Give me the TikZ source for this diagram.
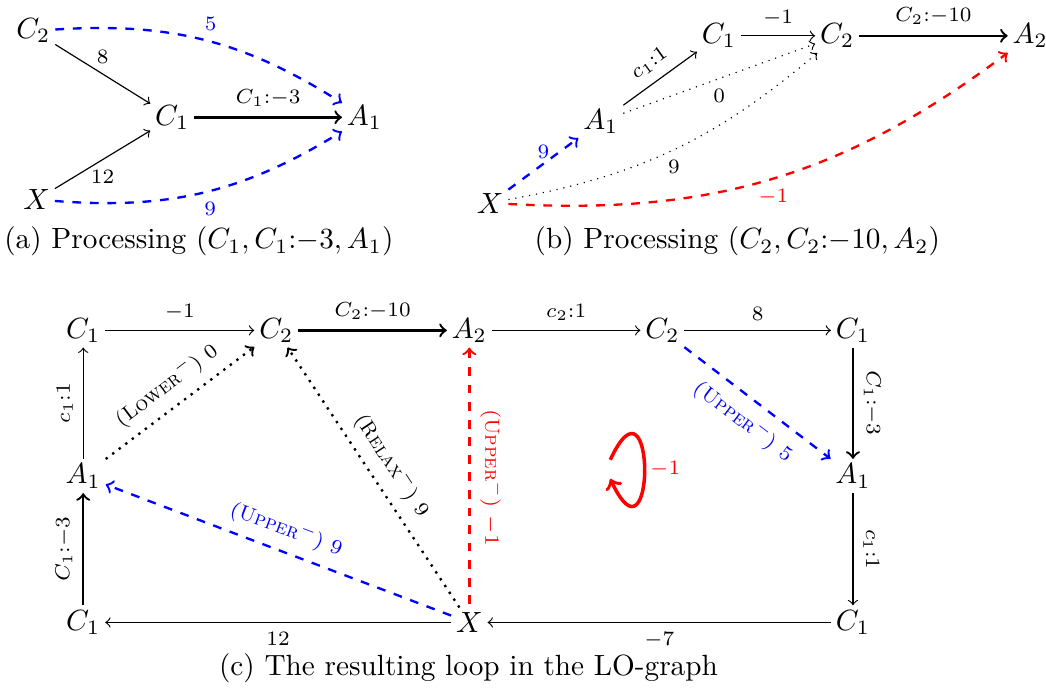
\documentclass[tikz,border=0pt]{standalone}
\begin{document}
\begin{tikzpicture}[
    font=\normalsize,
    vtx/.style={inner sep=1.5pt},
    %% edge labels
    lbl/.style={font=\scriptsize},
    %% plain and heavy arcs
    plainarr/.style={->},
    heavyarr/.style={->, thick},
    %% bound arcs
    upperarr/.style={->, blue, dashed, thick},
    redarr/.style={->, red, dashed, thick},
    dotarr/.style={->, dotted, thick},
    faintdot/.style={->, dotted},
    %% negative cycle
    cyclearr/.style={->, red, very thick},
    capt/.style={font=\normalsize}
]
\useasboundingbox (0,0) rectangle (12.57,8.27);

%% ══════════════════════════════════════════════════════════════════
%% PANEL (a) — processing (C1, C1:-3, A1)
%% ══════════════════════════════════════════════════════════════════
\begin{scope}
    \node[vtx] (c2a) at (0.40, 7.90) {\(C_2\)};
    \node[vtx] (c1a) at (2.07, 6.86) {\(C_1\)};
    \node[vtx] (a1a) at (4.38, 6.86) {\(A_1\)};
    \node[vtx] (xa)  at (0.44, 5.87) {\(X\)};

    \draw[plainarr] (c2a) -- node[lbl, above] {\(8\)} (c1a);
    \draw[plainarr] (xa) -- node[lbl, below] {\(12\)} (c1a);
    \draw[heavyarr] (c1a) -- node[lbl, above] {\(C_1{:}{-}3\)} (a1a);

    %% derived bounds
    \draw[upperarr] (c2a) to[bend left=18] node[lbl, above, pos=0.52] {\(5\)} (a1a);
    \draw[upperarr] (xa) to[bend right=18] node[lbl, below, pos=0.52] {\(9\)} (a1a);

    \node[capt] (capa) at (2.39, 5.37)
        {(a) Processing \((C_1, C_1{:}{-}3, A_1)\)};
\end{scope}

%% ══════════════════════════════════════════════════════════════════
%% PANEL (b) — processing (C2, C2:-10, A2)
%% ══════════════════════════════════════════════════════════════════
\begin{scope}
    \node[vtx] (xb)  at (5.89, 5.83) {\(X\)};
    \node[vtx] (a1b) at (7.22, 6.81) {\(A_1\)};
    \node[vtx] (c1b) at (8.64, 7.84) {\(C_1\)};
    \node[vtx] (c2b) at (10.06, 7.84) {\(C_2\)};
    \node[vtx] (a2b) at (12.38, 7.84) {\(A_2\)};

    \draw[upperarr] (xb) -- node[lbl, above, yshift=-2pt] {\(9\)} (a1b);
    \draw[plainarr] (a1b) -- node[lbl, above, sloped] {\(c_1{:}1\)} (c1b);
    \draw[plainarr] (c1b) -- node[lbl, above] {\(-1\)} (c2b);
    \draw[heavyarr] (c2b) -- node[lbl, above] {\(C_2{:}{-}10\)} (a2b);

    \draw[faintdot] (a1b) -- node[lbl, below] {\(0\)} (c2b);
    \draw[faintdot] (xb) to[bend right=15] node[lbl, below] {\(9\)} (c2b);
    \draw[redarr] (xb) to[bend right=20] node[lbl, below] {\(-1\)} (a2b);

    \node[capt] (capb) at (8.86, 5.37)
        {(b) Processing \((C_2, C_2{:}{-}10, A_2)\)};
\end{scope}

%% ══════════════════════════════════════════════════════════════════
%% PANEL (c) — the resulting loop
%% ══════════════════════════════════════════════════════════════════
\begin{scope}
    \node[vtx] (c1tl) at (1.00, 4.30) {\(C_1\)};
    \node[vtx] (c2t)  at (3.32, 4.30) {\(C_2\)};
    \node[vtx] (a2t)  at (5.64, 4.30) {\(A_2\)};
    \node[vtx] (c2tr) at (7.96, 4.30) {\(C_2\)};
    \node[vtx] (c1tr) at (10.25, 4.30) {\(C_1\)};
    \node[vtx] (a1l)  at (1.00, 2.55) {\(A_1\)};
    \node[vtx] (a1r)  at (10.25, 2.55) {\(A_1\)};
    \node[vtx] (c1bl) at (1.00, 0.79) {\(C_1\)};
    \node[vtx] (xc)   at (5.64, 0.79) {\(X\)};
    \node[vtx] (c1br) at (10.25, 0.79) {\(C_1\)};

    %% outer ring
    \draw[plainarr] (c1tl) -- node[lbl, above] {\(-1\)} (c2t);
    \draw[heavyarr] (c2t) -- node[lbl, above] {\(C_2{:}{-}10\)} (a2t);
    \draw[plainarr] (a2t) -- node[lbl, above] {\(c_2{:}1\)} (c2tr);
    \draw[plainarr] (c2tr) -- node[lbl, above] {\(8\)} (c1tr);
    \draw[heavyarr] (c1tr) -- node[lbl, above, sloped] {\(C_1{:}{-}3\)} (a1r);
    \draw[plainarr] (a1r) -- node[lbl, above, sloped] {\(c_1{:}1\)} (c1br);
    \draw[plainarr] (c1br) -- node[lbl, below] {\(-7\)} (xc);
    \draw[plainarr] (xc) -- node[lbl, below] {\(12\)} (c1bl);
    \draw[heavyarr] (c1bl) -- node[lbl, above, sloped] {\(C_1{:}{-}3\)} (a1l);
    \draw[plainarr] (a1l) -- node[lbl, above, sloped] {\(c_1{:}1\)} (c1tl);

    %% derived arcs
    \draw[dotarr] (a1l) -- node[lbl, above, sloped]
        {(\textsc{Lower}\(^-\))~\(0\)} (c2t);
    \draw[dotarr] (xc) -- node[lbl, above, sloped]
        {(\textsc{Relax}\(^-\))~\(9\)} (c2t);
    \draw[upperarr] (xc) -- node[lbl, above, sloped]
        {(\textsc{Upper}\(^-\))~\(9\)} (a1l);
    \draw[upperarr] (c2tr) -- node[lbl, below, sloped]
        {(\textsc{Upper}\(^-\))~\(5\)} (a1r);
    \draw[redarr, <-] (a2t) -- node[lbl, above, sloped]
        {(\textsc{Upper}\(^-\))~\(-1\)} (xc);

    %% negative cycle
    \node[circle, inner sep=0pt, minimum size=0.24cm] (lp) at (7.28, 2.63) {};
    \draw[cyclearr] (lp) to[out=65, in=-65, min distance=1.3cm]
        node[lbl, right, xshift=-2pt] {\(-1\)} (lp);

    \node[capt] (capc) at (5.63, 0.24)
        {(c) The resulting loop in the LO-graph};
\end{scope}

\end{tikzpicture}
\end{document}
